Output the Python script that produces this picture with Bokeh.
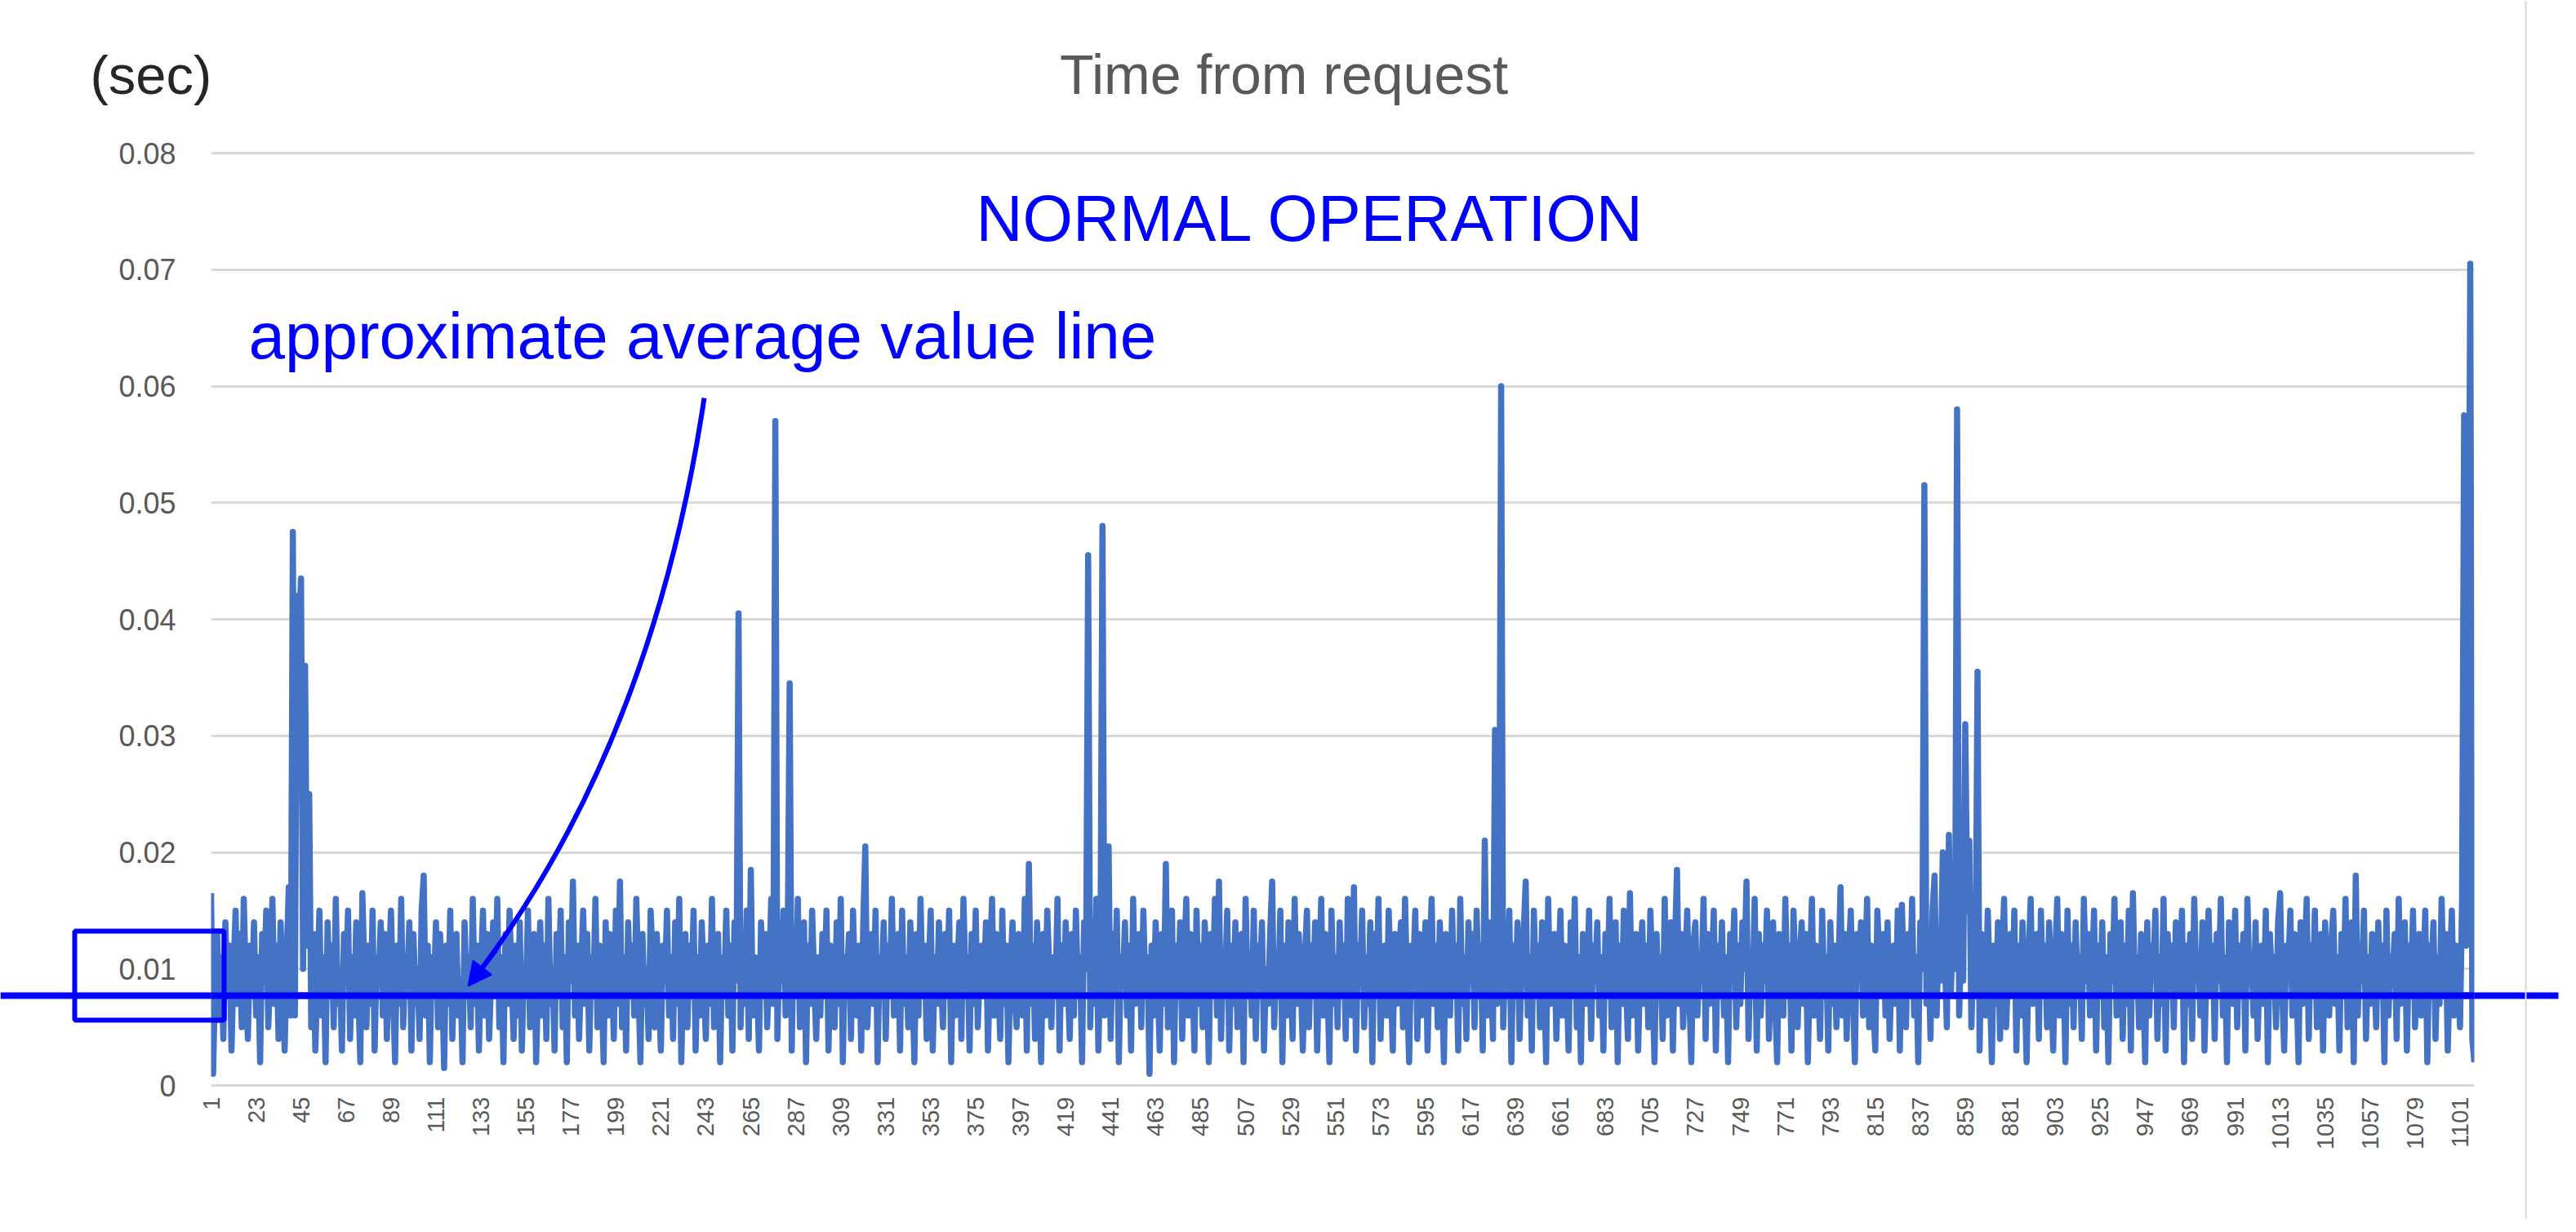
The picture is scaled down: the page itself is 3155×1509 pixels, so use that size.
import math
from bokeh.plotting import figure
from bokeh.models import (Range1d, FixedTicker, CustomJSTickFormatter, Label,
                          BoxAnnotation, Arrow, NormalHead, Span, GridBox)
from bokeh.embed import file_html
from bokeh.resources import INLINE

# ---------------- data (response time, milliseconds, request #1 .. #1108) -------------
response_ms = [
    16.5, 1, 9, 13, 6, 11, 4, 14, 8, 12, 3, 10, 15, 7, 13, 5, 16, 9, 4, 12,
    8, 14, 6, 11, 2, 13, 9, 15, 5, 10, 16, 7, 12, 4, 14, 9, 3, 11, 17, 6,
    47.5, 6, 42, 39, 43.5, 10, 36, 12, 25, 5, 13, 3, 9, 15, 6, 11, 2, 14, 8, 12,
    5, 16, 7, 10, 3, 13, 9, 15, 4, 11, 6, 14, 8, 2, 16.5, 10, 5, 12, 7, 15,
    3, 11, 9, 14, 6, 13, 4, 10, 15, 8, 2, 12, 7, 16, 5, 11, 9, 14, 3, 13,
    7, 10, 4, 15, 18, 6, 12, 2, 11, 8, 14, 5, 13, 9, 1.5, 12, 7, 15, 4, 10,
    13, 6, 9, 2, 14, 8, 11, 5, 16, 7, 12, 3, 10, 15, 6, 13, 4, 9, 14, 8,
    16, 5, 11, 2, 13, 7, 15, 9, 4, 12, 6, 14, 3, 10, 8, 15, 5, 11, 13, 2,
    9, 14, 6, 12, 4, 16, 7, 10, 3, 13, 8, 15, 5, 11, 2, 14, 9, 17.5, 6, 12,
    4, 10, 15, 7, 13, 3, 11, 8, 16, 5, 12, 9, 2, 14, 6, 13, 10, 4, 15, 7,
    17.5, 5, 11, 3, 14, 8, 12, 6, 16, 9, 2, 13, 7, 10, 4, 15, 11, 5, 13, 8,
    3, 12, 9, 15, 6, 11, 4, 14, 7, 16, 2, 10, 13, 5, 12, 8, 15, 3, 11, 6,
    14, 9, 4, 12, 7, 16, 5, 10, 13, 2, 11, 8, 15, 6, 12, 3, 14, 9, 40.5, 5,
    12, 7, 15, 4, 18.5, 6, 11, 9, 3, 14, 8, 13, 5, 10, 16, 7, 57, 4, 12, 9,
    15, 6, 11, 34.5, 3, 13, 8, 16, 5, 10, 14, 2, 12, 7, 15, 9, 4, 11, 6, 13,
    8, 15, 3, 12, 10, 5, 14, 7, 16, 2, 11, 9, 13, 4, 15, 8, 6, 12, 3, 14,
    20.5, 5, 10, 13, 7, 15, 2, 11, 9, 14, 4, 12, 8, 16, 6, 10, 13, 3, 15, 7,
    11, 5, 14, 9, 2, 13, 6, 16, 8, 12, 4, 10, 15, 3, 11, 7, 14, 9, 5, 13,
    8, 15, 2, 12, 6, 10, 14, 4, 16, 9, 11, 3, 13, 7, 15, 5, 10, 12, 8, 14,
    3, 11, 16, 6, 13, 9, 4, 15, 7, 12, 2, 10, 14, 8, 5, 13, 11, 6, 16, 3,
    19, 7, 12, 4, 14, 9, 2, 13, 6, 15, 10, 5, 11, 8, 16, 3, 12, 7, 14, 9,
    4, 13, 6, 15, 8, 11, 2, 14, 10, 45.5, 5, 12, 7, 16, 3, 11, 48, 6, 9, 20.5,
    4, 13, 8, 15, 2, 11, 9, 14, 6, 12, 3, 16, 7, 10, 13, 5, 15, 8, 11, 1,
    12, 6, 14, 9, 3, 13, 7, 19, 5, 10, 15, 2, 12, 8, 14, 4, 11, 16, 6, 13,
    9, 3, 15, 7, 12, 5, 14, 10, 2, 13, 8, 16, 6, 17.5, 4, 11, 9, 15, 3, 12,
    7, 14, 5, 10, 13, 2, 16, 8, 11, 6, 15, 4, 12, 9, 14, 3, 10, 7, 13, 17.5,
    5, 11, 8, 15, 2, 12, 6, 14, 10, 4, 16, 7, 13, 9, 3, 11, 15, 5, 12, 8,
    14, 3, 10, 16, 6, 13, 9, 2, 15, 7, 11, 5, 14, 8, 12, 4, 16, 10, 6, 17,
    3, 12, 9, 15, 5, 11, 7, 14, 2, 13, 8, 16, 4, 10, 12, 6, 15, 9, 3, 13,
    7, 11, 14, 5, 16, 8, 2, 12, 10, 15, 4, 13, 6, 9, 14, 3, 11, 16, 7, 12,
    5, 14, 9, 2, 13, 10, 6, 15, 8, 12, 3, 16, 7, 11, 4, 14, 9, 13, 5, 15,
    8, 12, 3, 21, 6, 14, 10, 4, 30.5, 7, 13, 60, 5, 11, 9, 15, 2, 12, 8, 14,
    4, 10, 13, 17.5, 6, 11, 3, 15, 8, 12, 5, 14, 9, 2, 16, 7, 11, 13, 4, 10,
    15, 6, 12, 9, 3, 14, 8, 16, 5, 11, 2, 13, 10, 7, 15, 4, 12, 9, 14, 6,
    11, 3, 13, 8, 16, 5, 10, 14, 2, 12, 7, 15, 9, 4, 16.5, 6, 11, 13, 3, 10,
    14, 7, 12, 5, 15, 9, 2, 13, 8, 11, 4, 16, 6, 10, 14, 3, 12, 18.5, 7, 13,
    5, 10, 15, 8, 2, 12, 14, 6, 11, 9, 16, 4, 13, 7, 10, 15, 3, 12, 8, 14,
    6, 11, 2, 13, 9, 15, 5, 12, 7, 14, 10, 17.5, 4, 11, 8, 16, 3, 13, 6, 12,
    9, 15, 4, 10, 14, 7, 2, 13, 11, 6, 16, 8, 12, 3, 15, 9, 5, 11, 14, 7,
    13, 2, 10, 16, 6, 12, 9, 4, 15, 8, 11, 3, 14, 7, 12, 5, 10, 17, 6, 13,
    4, 11, 15, 8, 2, 13, 9, 14, 6, 10, 16, 5, 12, 7, 3, 15, 11, 8, 13, 6,
    14, 4, 10, 12, 7, 15, 3, 15.5, 9, 5, 13, 8, 16, 6, 11, 2, 14, 10, 51.5, 7,
    12, 4, 15, 18, 6, 13, 9, 20, 11, 5, 21.5, 8, 14, 10, 58, 6, 12, 9, 31, 15,
    21, 5, 12, 8, 35.5, 3, 13, 10, 6, 15, 9, 2, 12, 7, 14, 4, 11, 16, 5, 10,
    13, 8, 15, 3, 12, 6, 14, 9, 2, 11, 16, 7, 10, 13, 4, 15, 8, 12, 5, 14,
    9, 3, 11, 16, 6, 13, 10, 2, 15, 7, 12, 5, 14, 8, 11, 4, 16, 9, 13, 6,
    10, 15, 3, 12, 8, 14, 5, 11, 2, 13, 9, 16, 6, 10, 14, 4, 12, 7, 15, 3,
    16.5, 8, 11, 5, 13, 9, 2, 14, 6, 12, 10, 15, 4, 11, 7, 16, 3, 13, 9, 12,
    5, 14, 8, 10, 15, 2, 12, 7, 13, 4, 16, 9, 11, 6, 14, 3, 10, 15, 8, 12,
    4, 13, 9, 16, 6, 11, 2, 14, 10, 7, 15, 5, 12, 8, 13, 3, 16, 9, 11, 6,
    14, 4, 10, 12, 7, 15, 2, 13, 9, 11, 5, 14, 16.5, 8, 3, 12, 10, 15, 6, 13,
    9, 2, 14, 7, 11, 16, 4, 12, 8, 15, 5, 10, 13, 3, 14, 9, 6, 12, 15, 7,
    11, 3, 13, 8, 16, 5, 10, 14, 2, 18, 6, 12, 9, 15, 4, 11, 7, 13, 10, 5,
    14, 8, 12, 2, 15, 6, 11, 9, 13, 4, 16, 7, 10, 14, 3, 12, 8, 15, 5, 11,
    13, 6, 9, 15, 2, 12, 10, 14, 4, 11, 7, 16, 8, 13, 3, 10, 15, 6, 12, 9,
    5, 16, 57.5, 12, 30, 70.5, 4, 2,
]

x_tick_labels = list(range(1, 1102, 22))          # 1, 23, 45, ..., 1101
y_tick_values = [0, 0.01, 0.02, 0.03, 0.04, 0.05, 0.06, 0.07, 0.08]
average_value = 0.0077                              # approximate average value line (sec)

title_text = "Time from request"
unit_text = "(sec)"
normal_text = "NORMAL OPERATION"
avg_text = "approximate average value line"

# ---------------------------------------------------------------------------------------
n = len(response_ms)
request_no = list(range(1, n + 1))
response_sec = [v / 1000.0 for v in response_ms]

W, H = 3139, 1493
FRAME_L, FRAME_R = 258, 3030           # canvas px of request #1 and #n
Y0_PX, Y8_PX = 1329, 187               # canvas px of 0 and 0.08
FRAME_T = 184
PX_PER_UNIT = (Y0_PX - Y8_PX) / 0.08
Y_TOP = (Y0_PX - FRAME_T) / PX_PER_UNIT

def fx(px):
    return 1 + (px - FRAME_L) * (n - 1) / (FRAME_R - FRAME_L)

def fy(py):
    return (Y0_PX - py) / PX_PER_UNIT

FONT = "Liberation Sans"
GREY = "#595959"
BLUE = "#0000FF"
AVG_PX = Y0_PX - average_value * PX_PER_UNIT

# ---------------- background layer (whole canvas, pixel coordinates) ----------------
bg = figure(width=W, height=H, output_backend="svg", toolbar_location=None,
            x_range=Range1d(0, W), y_range=Range1d(H, 0),
            x_axis_type=None, y_axis_type=None, min_border=0)
bg.outline_line_color = None
bg.background_fill_color = "white"
bg.border_fill_color = "white"

bg.add_layout(Label(x=110, y=91, text=unit_text, text_font=FONT,
                    text_font_size="67px", text_color="#262626",
                    text_align="left", text_baseline="alphabetic"))
bg.add_layout(Label(x=1572, y=90, text=title_text, text_font=FONT,
                    text_font_size="68px", text_color=GREY,
                    text_align="center", text_baseline="alphabetic"))
# average line across the whole chart
bg.add_layout(BoxAnnotation(left=0, right=3133, top=AVG_PX - 4, bottom=AVG_PX + 4,
                            fill_color=BLUE, fill_alpha=1.0, line_color=None))
# box around the 0.01 label
bg.add_layout(BoxAnnotation(left=91, right=274, top=1140, bottom=1249,
                            fill_alpha=0, line_color=BLUE, line_width=6, line_alpha=1.0))
# chart-area right border
bg.add_layout(BoxAnnotation(left=3092, right=3094, top=0, bottom=H,
                            fill_color="#d9d9d9", fill_alpha=1.0, line_color=None))

# ---------------- chart layer ----------------
p = figure(width=W, height=H, output_backend="svg", toolbar_location=None,
           x_range=Range1d(1, n), y_range=Range1d(0, Y_TOP),
           min_border_left=FRAME_L, min_border_right=W - FRAME_R,
           min_border_top=FRAME_T, min_border_bottom=H - Y0_PX)
p.outline_line_color = None
p.background_fill_alpha = 0
p.border_fill_alpha = 0

for fig in (bg, p):
    try:
        fig.frame_align = False
    except AttributeError:
        pass

p.xgrid.visible = False
p.ygrid.ticker = FixedTicker(ticks=y_tick_values)
p.ygrid.grid_line_color = "#d9d9d9"
p.ygrid.grid_line_width = 3

p.yaxis.ticker = FixedTicker(ticks=y_tick_values)
p.yaxis.formatter = CustomJSTickFormatter(code="return tick == 0 ? '0' : tick.toFixed(2);")
p.yaxis.axis_line_color = None
p.yaxis.major_tick_line_color = None
p.yaxis.minor_tick_line_color = None
p.yaxis.major_tick_out = 0
p.yaxis.major_label_standoff = 43
p.yaxis.major_label_text_font = FONT
p.yaxis.major_label_text_font_size = "36px"
p.yaxis.major_label_text_color = GREY

p.xaxis.ticker = FixedTicker(ticks=x_tick_labels)
p.xaxis.major_label_orientation = math.pi / 2
p.xaxis.axis_line_color = "#d9d9d9"
p.xaxis.axis_line_width = 3
p.xaxis.major_tick_line_color = None
p.xaxis.minor_tick_line_color = None
p.xaxis.major_tick_out = 0
p.xaxis.major_label_standoff = 14
p.xaxis.major_label_text_font = FONT
p.xaxis.major_label_text_font_size = "29px"
p.xaxis.major_label_text_color = GREY

p.line(request_no, response_sec, line_color="#4472C4", line_width=7.5, line_join="round")

# overlays drawn above the data
p.add_layout(Span(location=average_value, dimension="width", line_color=BLUE, line_width=8))
p.add_layout(BoxAnnotation(left=fx(91), right=fx(274), bottom=fy(1249), top=fy(1140),
                           fill_alpha=0, line_color=BLUE, line_width=6, line_alpha=1.0))
p.quadratic(x0=[fx(862)], y0=[fy(487)], cx=[fx(798)], cy=[fy(915)],
            x1=[fx(578)], y1=[fy(1201)], line_color=BLUE, line_width=6)
p.add_layout(Arrow(end=NormalHead(size=28, fill_color=BLUE, line_color=BLUE, line_width=2),
                   x_start=fx(607), y_start=fy(1163), x_end=fx(573), y_end=fy(1207),
                   line_color=BLUE, line_width=6))
p.add_layout(Label(x=fx(1195), y=fy(267), text=normal_text, text_font=FONT,
                   text_font_size="79px", text_color=BLUE,
                   text_align="left", text_baseline="alphabetic"))
p.add_layout(Label(x=fx(304), y=fy(411), text=avg_text, text_font=FONT,
                   text_font_size="80px", text_color=BLUE,
                   text_align="left", text_baseline="alphabetic"))

layout = GridBox(children=[(bg, 0, 0), (p, 0, 0)])
open("out.html", "w").write(file_html(layout, INLINE))
